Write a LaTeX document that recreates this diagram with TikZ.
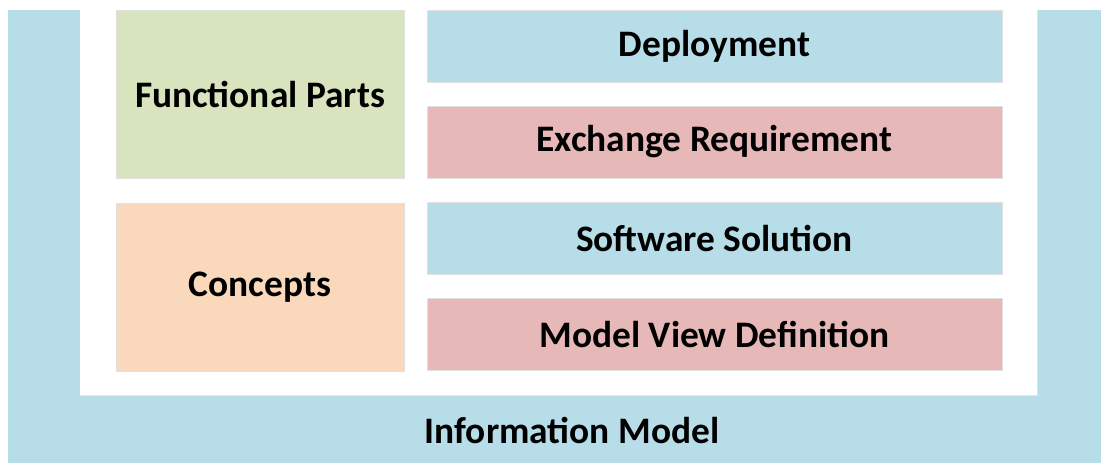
\documentclass[tikz,border=0pt]{standalone}
\usepackage{fontspec}
\setmainfont{Carlito}
\usetikzlibrary{positioning}

\definecolor{modelblue}{HTML}{B7DDE8}
\definecolor{partgreen}{HTML}{D7E4BD}
\definecolor{conceptorange}{HTML}{F9D8BB}
\definecolor{reqred}{HTML}{E6B9B8}

\tikzset{
  box/.style={draw=black!12, line width=0.4pt, inner sep=0pt, font=\fontsize{18.7}{22}\selectfont\bfseries},
  widebox/.style={box, minimum width=144pt, minimum height=84pt},
  longbox/.style={box, minimum width=287.5pt, minimum height=36pt}
}

\begin{document}
\begin{tikzpicture}[x=1pt, y=1pt]
\useasboundingbox (0, 0) rectangle (550.5, 231.5);
% outer model and inner panel
\node [fill=modelblue, inner sep=0pt, minimum width=546.5pt, minimum height=226.5pt, anchor=south west] (model) at (4, 0) {};
\node [fill=white, inner sep=0pt, minimum width=478.5pt, minimum height=197.5pt, anchor=north west] (panel) at (40, 231.5) {};
\draw [black!10, line width=0.4pt] (panel.south west) -- (panel.south east) -- ([yshift=-5pt]panel.north east);
\node [font=\fontsize{18.7}{22}\selectfont\bfseries] (modellabel) at (286, 16.5) {Information Model};

\node [widebox, fill=partgreen] (parts) at (130, 184.25) {Functional Parts};
\node [widebox, fill=conceptorange] (concepts) at (130, 88) {Concepts};

\node [longbox, fill=modelblue] (deploy) at (357.25, 208.5) {Deployment};
\node [longbox, fill=reqred] (exchange) at (357.25, 160.5) {Exchange Requirement};
\node [longbox, fill=modelblue] (software) at (357.25, 112.25) {Software Solution};
\node [longbox, fill=reqred] (mvd) at (357.25, 64.5) {Model View Definition};
\end{tikzpicture}
\end{document}
